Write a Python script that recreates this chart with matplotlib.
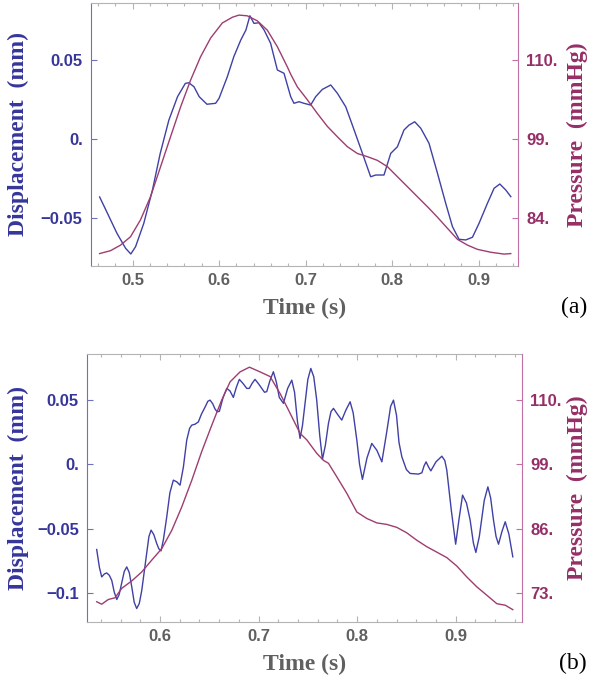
import numpy as np
import matplotlib.pyplot as plt
from matplotlib.ticker import MultipleLocator, FixedLocator, FixedFormatter, FormatStrFormatter

plt.rcParams['font.family'] = 'Liberation Sans'
plt.rcParams['font.weight'] = 'bold'

# %%
# Panel (a): wall displacement and pressure over one beat
t_disp_a = [0.462, 0.471, 0.482, 0.492, 0.498, 0.5035, 0.513, 0.523, 0.532, 0.542,
            0.552, 0.561, 0.565, 0.571, 0.577, 0.586, 0.596, 0.600, 0.6095, 0.617,
            0.625, 0.631, 0.6356, 0.6403, 0.646, 0.652, 0.6595, 0.6673, 0.675, 0.6827,
            0.6865, 0.6923, 0.698, 0.7058, 0.7116, 0.7193, 0.729, 0.7367, 0.7463, 0.756,
            0.7656, 0.7751, 0.781, 0.7905, 0.7983, 0.806, 0.8136, 0.8194, 0.826, 0.833,
            0.8425, 0.8523, 0.8618, 0.8696, 0.8772, 0.885, 0.8927, 0.9003, 0.91, 0.9177,
            0.9243, 0.9312, 0.937]
disp_a = [-0.0365, -0.0468, -0.0595, -0.0690, -0.0726, -0.068, -0.0532, -0.0321, -0.0089, 0.0122,
          0.027, 0.0354, 0.0358, 0.0333, 0.027, 0.0222, 0.0228, 0.026, 0.0396, 0.0523,
          0.0628, 0.0692, 0.0782, 0.0734, 0.0738, 0.0692, 0.0608, 0.0439, 0.0418, 0.027,
          0.0228, 0.0238, 0.0228, 0.0217, 0.027, 0.0316, 0.0344, 0.0291, 0.0206, 0.0059,
          -0.0089, -0.0237, -0.0226, -0.0226, -0.0089, -0.0047, 0.0059, 0.009, 0.0111, 0.007,
          -0.0025, -0.0215, -0.0405, -0.0553, -0.0633, -0.0637, -0.062, -0.0532, -0.0405, -0.031,
          -0.0283, -0.0321, -0.0363]

t_pres_a = [0.462, 0.4746, 0.4861, 0.4977, 0.5092, 0.5208, 0.5324, 0.5439, 0.5555, 0.5671,
            0.5786, 0.5902, 0.6037, 0.6153, 0.6229, 0.6326, 0.6442, 0.6557, 0.6673, 0.6788,
            0.683, 0.6904, 0.702, 0.7135, 0.7251, 0.7367, 0.7482, 0.7598, 0.7714, 0.7829,
            0.7945, 0.806, 0.8176, 0.8291, 0.8407, 0.8523, 0.8638, 0.8754, 0.887, 0.8985,
            0.9139, 0.9292, 0.937]
pres_a = [77.3, 77.85, 78.9, 80.5, 83.7, 88.1, 93.8, 99.35, 103.5, 107.25,
          110.5, 113.1, 115.2, 116.0, 116.3, 116.2, 115.5, 114.2, 111.9, 109.1,
          108.0, 106.3, 104.5, 102.6, 100.8, 99.35, 97.6, 96.3, 95.7, 95.0,
          93.8, 91.9, 90.0, 88.1, 86.2, 84.2, 82.1, 80.0, 78.9, 78.1,
          77.55, 77.2, 77.3]

disp_ticks_a = [-0.05, 0.0, 0.05]
disp_labels_a = ['\u22120.05', '0.', '0.05']
pres_ticks_a = [84, 99, 110]
pres_labels_a = ['84.', '99.', '110.']

# %%
# Panel (b)
t_disp_b = [0.5357, 0.5385, 0.5408, 0.5435, 0.5459, 0.5485, 0.551, 0.5535, 0.5561, 0.5585,
            0.5611, 0.5637, 0.5662, 0.5688, 0.5713, 0.5738, 0.5763, 0.5789, 0.5814, 0.584,
            0.5865, 0.5887, 0.5909, 0.5937, 0.5966, 0.5988, 0.601, 0.6035, 0.6068, 0.61,
            0.6135, 0.617, 0.6203, 0.6237, 0.6271, 0.63, 0.6322, 0.6355, 0.6389, 0.642,
            0.6457, 0.6485, 0.6508, 0.6535, 0.6558, 0.658, 0.6602, 0.664, 0.6677, 0.671,
            0.6744, 0.6775, 0.6805, 0.684, 0.688, 0.6906, 0.6935, 0.6964, 0.7, 0.7032,
            0.706, 0.7083, 0.7115, 0.715, 0.718, 0.721, 0.7252, 0.7295, 0.7337, 0.7365,
            0.7395, 0.7421, 0.7445, 0.7472, 0.75, 0.753, 0.756, 0.759, 0.762, 0.7648,
            0.7678, 0.7709, 0.7735, 0.776, 0.78, 0.7844, 0.7885, 0.7929, 0.796, 0.7997,
            0.8025, 0.8054, 0.81, 0.8149, 0.82, 0.8251, 0.83, 0.834, 0.8369, 0.84,
            0.8425, 0.8454, 0.85, 0.8538, 0.8622, 0.8657, 0.868, 0.87, 0.8725, 0.8748,
            0.88, 0.886, 0.889, 0.891, 0.8955, 0.9, 0.9035, 0.907, 0.911, 0.9147,
            0.918, 0.9205, 0.924, 0.929, 0.9327, 0.9355, 0.9384, 0.941, 0.9435, 0.947,
            0.9503, 0.954, 0.958]
disp_b = [-0.066, -0.080, -0.0873, -0.085, -0.0842, -0.086, -0.090, -0.099, -0.1048, -0.101,
          -0.092, -0.083, -0.0795, -0.084, -0.095, -0.107, -0.1118, -0.108, -0.098, -0.083,
          -0.068, -0.056, -0.051, -0.0545, -0.0613, -0.0655, -0.0671, -0.058, -0.0407, -0.022,
          -0.0122, -0.0135, -0.0161, -0.002, 0.0189, 0.028, 0.0305, 0.0312, 0.033, 0.039,
          0.0445, 0.049, 0.0499, 0.047, 0.043, 0.0408, 0.0412, 0.052, 0.059, 0.057,
          0.052, 0.060, 0.066, 0.063, 0.059, 0.059, 0.063, 0.066, 0.0625, 0.059,
          0.056, 0.0565, 0.065, 0.0719, 0.064, 0.052, 0.0474, 0.059, 0.0654, 0.056,
          0.033, 0.0202, 0.030, 0.0474, 0.066, 0.0745, 0.068, 0.0499, 0.023, 0.0039,
          0.015, 0.0318, 0.041, 0.0435, 0.039, 0.0344, 0.042, 0.0486, 0.040, 0.0189,
          0.0, -0.0116, 0.005, 0.0163, 0.011, 0.002, 0.025, 0.045, 0.0499, 0.038,
          0.017, 0.0059, -0.004, -0.007, -0.0075, -0.0065, -0.001, 0.002, -0.002, -0.005,
          0.002, 0.0064, 0.003, -0.0044, -0.035, -0.0619, -0.042, -0.0238, -0.030, -0.0432,
          -0.061, -0.0683, -0.056, -0.028, -0.0174, -0.026, -0.0432, -0.056, -0.0619, -0.052,
          -0.0445, -0.054, -0.0717]

t_pres_b = [0.5357, 0.5408, 0.5475, 0.5543, 0.5611, 0.5713, 0.5814, 0.5916, 0.6017, 0.6119,
            0.622, 0.6322, 0.6423, 0.6525, 0.6626, 0.6711, 0.6812, 0.6907, 0.7015, 0.7117,
            0.7218, 0.7303, 0.7421, 0.7489, 0.759, 0.7658, 0.7709, 0.7794, 0.7896, 0.7997,
            0.8098, 0.82, 0.8301, 0.8403, 0.8504, 0.8606, 0.8707, 0.8809, 0.891, 0.9012,
            0.9113, 0.9215, 0.9317, 0.9418, 0.9503, 0.958]
pres_b = [71.3, 70.8, 71.75, 72.1, 74.0, 75.5, 77.3, 79.7, 82.0, 85.7,
          90.4, 95.8, 101.2, 105.7, 110.0, 113.1, 114.8, 115.6, 114.8, 114.0,
          111.1, 108.3, 104.3, 103.2, 100.9, 99.7, 99.2, 96.5, 93.15, 89.4,
          88.1, 87.2, 86.9, 86.3, 85.2, 83.7, 82.4, 81.3, 80.2, 78.5,
          76.3, 74.3, 72.6, 70.9, 70.6, 69.7]

disp_ticks_b = [-0.1, -0.05, 0.0, 0.05]
disp_labels_b = ['\u22120.1', '\u22120.05', '0.', '0.05']
pres_ticks_b = [73, 86, 99, 110]
pres_labels_b = ['73.', '86.', '99.', '110.']

# colours
BLUE = '#4040a6'
RED = '#9e3d70'
BLUE_TXT = '#36369a'
RED_TXT = '#952f67'
BLUE_AX = '#7070c0'
RED_AX = '#c070a2'
GRAY_AX = '#b4b4b4'
GRAY_TXT = '#606060'
SERIF = 'Liberation Serif'


def piecewise(src, dst):
    # piecewise-linear map with linear extrapolation at both ends
    src = np.asarray(src, float)
    dst = np.asarray(dst, float)

    def f(v):
        v = np.asarray(v, float)
        i = np.clip(np.searchsorted(src, v) - 1, 0, len(src) - 2)
        return dst[i] + (v - src[i]) * (dst[i + 1] - dst[i]) / (src[i + 1] - src[i])
    return f


def panel(rect, t_d, d, t_p, p, xlim, ylim, dticks, dlabels, pticks, plabels,
          ylab_x, plab_x, xlab_y):
    ax = fig.add_axes(rect)
    ax.plot(t_d, d, color=BLUE, lw=1.0)
    ax.set_xlim(*xlim)
    ax.set_ylim(*ylim)

    ax.xaxis.set_major_locator(MultipleLocator(0.1))
    ax.xaxis.set_minor_locator(MultipleLocator(0.02))
    ax.xaxis.set_major_formatter(FormatStrFormatter('%.1f'))
    ax.yaxis.set_major_locator(FixedLocator(dticks))
    ax.yaxis.set_major_formatter(FixedFormatter(dlabels))

    ax.tick_params(axis='x', which='both', direction='in', top=True, color=GRAY_AX,
                   labelcolor=GRAY_TXT, labelsize=12, pad=5, width=0.8)
    ax.tick_params(axis='x', which='major', length=4.5)
    ax.tick_params(axis='x', which='minor', length=2.5)
    ax.tick_params(axis='y', which='major', direction='in', length=4.5, width=0.8,
                   color=BLUE_AX, labelcolor=BLUE_TXT, labelsize=12, pad=6)

    for s in ('top', 'bottom'):
        ax.spines[s].set_color(GRAY_AX)
    ax.spines['left'].set_color(BLUE_AX)
    ax.spines['right'].set_visible(False)

    # pressure axis: its tick values sit at the displacement tick heights
    ax2 = ax.twinx()
    fwd = piecewise(pticks, dticks)
    inv = piecewise(dticks, pticks)
    ax2.set_yscale('function', functions=(fwd, inv))
    ax2.plot(t_p, p, color=RED, lw=1.0)
    ax2.set_ylim(float(inv(ylim[0])), float(inv(ylim[1])))
    ax2.yaxis.set_major_locator(FixedLocator(pticks))
    ax2.yaxis.set_major_formatter(FixedFormatter(plabels))
    ax2.tick_params(axis='y', which='major', direction='in', length=4.5, width=0.8,
                    color=RED_AX, labelcolor=RED_TXT, labelsize=12, pad=6)
    for s in ('top', 'bottom', 'left'):
        ax2.spines[s].set_visible(False)
    ax2.spines['right'].set_color(RED_AX)

    ax.set_ylabel('Displacement  (mm)', family=SERIF, fontsize=17, fontweight='bold',
                  color=BLUE_TXT, va='center')
    ax.yaxis.set_label_coords(ylab_x, 0.5)
    ax2.set_ylabel('Pressure  (mmHg)', family=SERIF, fontsize=17, fontweight='bold',
                   color=RED_TXT, va='center', rotation=90)
    ax2.yaxis.set_label_coords(plab_x, 0.5)
    ax.set_xlabel('Time (s)', family=SERIF, fontsize=17, fontweight='bold',
                  color=GRAY_TXT, va='baseline')
    ax.xaxis.set_label_coords(0.5, xlab_y)
    return ax


fig = plt.figure(figsize=(5.9, 6.81), dpi=100)

panel([0.1542, 0.6094, 0.7233, 0.3862], t_disp_a, disp_a, t_pres_a, pres_a,
      (0.452, 0.945), (-0.0802, 0.0863), disp_ticks_a, disp_labels_a,
      pres_ticks_a, pres_labels_a, -0.171, 1.139, -0.1825)
panel([0.148, 0.0862, 0.7362, 0.394], t_disp_b, disp_b, t_pres_b, pres_b,
      (0.5262, 0.967), (-0.1225, 0.0857), disp_ticks_b, disp_labels_b,
      pres_ticks_b, pres_labels_b, -0.1595, 1.129, -0.178)

fig.text(0.973, 0.5485, '(a)', family=SERIF, fontweight='normal', fontsize=17,
         ha='center', va='center')
fig.text(0.971, 0.0264, '(b)', family=SERIF, fontweight='normal', fontsize=17,
         ha='center', va='center')

fig.savefig('out.png', dpi=100)
